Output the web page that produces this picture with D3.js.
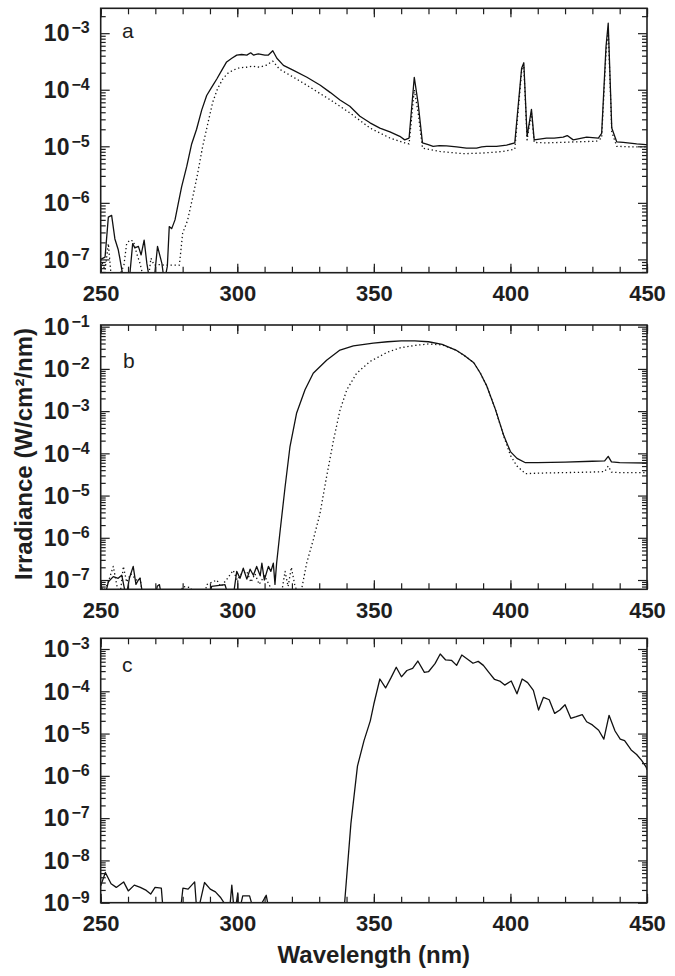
<!DOCTYPE html>
<html><head><meta charset="utf-8">
<script src="https://cdn.jsdelivr.net/npm/d3@7"></script>
<style>
body{margin:0;background:#fff;}
svg{display:block;background:#fff;}
text{font-family:"Liberation Sans",Arial,Helvetica,sans-serif;fill:#1e1e1e;}
</style></head><body><svg id="chart" width="675" height="976"></svg>
<script>
// ---------------- DATA ----------------
const xTickLabels = [250, 300, 350, 400, 450];
const xMinorTicks = [250,260,270,280,290,300,310,320,330,340,350,360,370,380,390,400,410,420,430,440,450];
const aDecades = [1e-7, 1e-6, 1e-5, 1e-4, 1e-3];
const bDecades = [1e-7, 1e-6, 1e-5, 1e-4, 1e-3, 1e-2, 1e-1];
const cDecades = [1e-9, 1e-8, 1e-7, 1e-6, 1e-5, 1e-4, 1e-3];
const panelLabels = ["a", "b", "c"];

// panel a, solid
const aSolidWl = [250,251.6,252.8,254.0,255.2,256.4,257.0,258.5,260.6,261.7,262.5,263.8,264.8,265.9,266.9,268.0,269.5,270.8,272.4,273.3,274.4,275.1,276.0,277.2,278.4,279.6,281.5,283.3,285.1,287.0,288.8,290.6,292.5,294.3,296.1,298.0,299.8,301.6,303.5,304.9,305.9,307.7,310.1,311.4,313.0,314.5,316.9,320.6,325.5,330.4,334.1,337.6,341.2,344.9,348.6,352.2,355.9,359.5,361.3,362.9,364.8,366.2,367.8,369.9,371.7,374.0,376.6,380.3,383.9,387.6,389.5,391.3,394.9,398.6,401.6,404.1,404.9,406.1,407.7,408.7,413.2,416.0,419.3,420.8,423.0,427.9,432.2,433.4,435.0,435.8,437.1,438.9,441.3,446.2,449.6,450];
const aSolidVal = [1.0e-7,1.1e-7,5.6e-7,6.0e-7,2.3e-7,1.5e-7,1.05e-7,4e-8,5e-8,1.9e-7,1.6e-7,1.7e-7,1.2e-7,2.2e-7,8.5e-8,4e-8,4e-8,1.7e-7,8.5e-8,4e-8,7.6e-8,3.8e-7,3.5e-7,5.0e-7,9.8e-7,1.9e-6,4.4e-6,1.1e-5,2.0e-5,4.4e-5,7.9e-5,1.1e-4,1.55e-4,2.2e-4,3.1e-4,3.6e-4,4.1e-4,4.2e-4,4.1e-4,4.5e-4,4.1e-4,4.3e-4,4.1e-4,4.1e-4,4.9e-4,3.6e-4,2.7e-4,2.2e-4,1.66e-4,1.2e-4,8.9e-5,6.6e-5,5.1e-5,3.4e-5,2.6e-5,2.1e-5,1.8e-5,1.5e-5,1.3e-5,1.4e-5,1.66e-4,5.8e-5,1.15e-5,1.07e-5,1.0e-5,1.03e-5,1.02e-5,9.8e-6,9.3e-6,9.3e-6,9.8e-6,1.0e-5,1.0e-5,1.05e-5,1.15e-5,2.4e-4,3.0e-4,1.5e-5,4.5e-5,1.3e-5,1.4e-5,1.4e-5,1.45e-5,1.55e-5,1.3e-5,1.45e-5,1.4e-5,1.7e-5,5.8e-4,1.5e-3,2.1e-5,1.2e-5,1.17e-5,1.1e-5,1.07e-5,1.07e-5];

// panel a, dotted
const aDotWl = [250,251.6,252.8,254.0,256.0,258.5,259.5,260.7,262.0,263.2,264.4,266.0,267.3,268.4,269.6,271.4,273.8,276.3,278.8,280.0,281.8,283.7,285.5,287.3,289.2,291.0,292.8,294.7,296.5,298.3,300.8,303.2,305.6,308.1,310.5,313.0,315.5,320.6,325.5,330.4,334.1,341.2,348.6,355.9,361.3,362.9,364.8,366.2,367.8,374.1,382.7,390.0,397.3,401.6,404.1,404.9,406.1,407.7,408.7,413.2,431.5,433.4,435.0,435.8,437.1,438.9,443.8,450];
const aDotVal = [1.0e-7,6.5e-8,1.9e-7,4e-8,4e-8,7.9e-8,1.9e-7,2.2e-7,2.1e-7,1.26e-7,8.5e-8,4e-8,4e-8,1.05e-7,7.9e-8,8.1e-8,7.9e-8,7.9e-8,7.9e-8,2.9e-7,4.9e-7,1.26e-6,3.3e-6,9.8e-6,2.5e-5,6.0e-5,1.05e-4,1.55e-4,1.95e-4,2.2e-4,2.45e-4,2.5e-4,2.6e-4,2.5e-4,2.7e-4,3.2e-4,2.3e-4,1.66e-4,1.2e-4,8.5e-5,6.6e-5,3.9e-5,2.1e-5,1.4e-5,1.15e-5,1.1e-5,1.0e-4,4.0e-5,9.3e-6,8.1e-6,7.4e-6,7.6e-6,8.1e-6,8.9e-6,2.1e-4,2.6e-4,1.3e-5,3.9e-5,1.17e-5,1.15e-5,1.23e-5,1.4e-5,4.5e-4,1.15e-3,1.8e-5,1.0e-5,9.8e-6,9.8e-6];

// panel b, solid
const bSolidWl = [250,251.5,252.8,254.6,256.4,257.7,259.3,260.5,261.9,262.9,263.8,264.4,265.5,270.0,270.7,271.5,272.3,289.8,290.6,295.5,296.8,298.5,299.8,301.0,302.2,303.5,304.7,305.9,307.1,308.4,309.0,309.9,311.4,312.3,313.2,313.8,314.4,315.6,317.5,319.3,321.7,324.8,327.8,332.7,337.6,342.5,349.8,355,360,365,370,375,380,383,386.6,389,391.3,394.5,397.6,400,402.4,405.5,410,420,430,434.5,435.8,437,440,450];
const bSolidVal = [7.9e-8,4e-8,9.1e-8,1.2e-7,1.1e-7,1.3e-7,4e-8,1.1e-7,2.1e-7,7.9e-8,1.0e-7,1.1e-7,4e-8,4e-8,7.1e-8,7.8e-8,4e-8,4e-8,7.1e-8,7.8e-8,4e-8,4e-8,1.6e-7,1.1e-7,1.9e-7,1.05e-7,1.8e-7,1.3e-7,2.1e-7,1.26e-7,2.5e-7,1.0e-7,2.1e-7,1.6e-7,2.5e-7,7.9e-8,2.5e-7,1.3e-6,1.6e-5,1.45e-4,8.9e-4,3.2e-3,7.9e-3,1.6e-2,2.8e-2,3.5e-2,4.1e-2,4.4e-2,4.6e-2,4.6e-2,4.4e-2,3.8e-2,2.8e-2,2.1e-2,1.4e-2,7.9e-3,4.0e-3,1.1e-3,2.6e-4,1.1e-4,7.6e-5,6.0e-5,6.0e-5,6.2e-5,6.5e-5,6.6e-5,8.5e-5,6.3e-5,6.0e-5,5.9e-5];

// panel b, dotted
const bDotWl = [250,252.5,254.6,256,257,258.3,259.5,261,263.2,264.4,265.5,279,280,283,284,288,288.8,292.5,294,296,298.5,300,301.5,303.5,305,306.5,308,310,312,314,316,317.5,318.6,319.8,321,322.5,323.6,325.4,327.8,330.3,332.7,335.2,337.6,340.1,343.7,348.6,351.6,355,360,365,370,375,380,383,386.6,389,391.3,394.5,397.6,400,402.4,405.5,410,420,430,434.5,435.8,437,440,450];
const bDotVal = [4e-8,7.9e-8,2.1e-7,7e-8,4e-8,2.1e-7,8.9e-8,1.4e-7,1.0e-7,1.1e-7,4e-8,4e-8,7e-8,6.6e-8,4e-8,4e-8,7.8e-8,1.0e-7,7e-8,1.0e-7,1.7e-7,1.0e-7,1.4e-7,1.6e-7,8.9e-8,1.4e-7,7.9e-8,1.26e-7,7e-8,4e-8,4e-8,1.6e-7,7e-8,2.0e-7,7.9e-8,4e-8,6.3e-8,2.5e-7,8.9e-7,3.8e-6,2.8e-5,2.0e-4,1.05e-3,3.2e-3,7.9e-3,1.5e-2,1.9e-2,2.5e-2,3.2e-2,3.6e-2,3.9e-2,3.7e-2,2.8e-2,2.1e-2,1.4e-2,7.9e-3,4.0e-3,1.1e-3,2.5e-4,8.9e-5,5.0e-5,3.3e-5,3.4e-5,3.5e-5,3.6e-5,3.7e-5,5.0e-5,3.6e-5,3.5e-5,3.5e-5];

// panel c, solid
const cSolidWl = [250,251.7,253.8,255.7,258.4,260.1,262.3,264.5,266.7,268.3,269.9,272.2,273.0,279.0,280.1,282.0,284.4,285.3,288.0,290.1,292.0,293.8,295.6,297.0,298.0,299.0,300.2,300.4,302.0,304.5,306.5,310.6,312.0,338.6,339.3,341.6,344.0,346.4,348.7,350.0,352.2,354.3,356.3,358.2,360.1,362.1,364.2,366.1,368.5,370.0,372.4,374.3,376.3,378.4,380.3,382.2,384.2,386.3,388.2,390.1,392.1,394.2,396.1,397.9,400.3,402.4,404.3,406.3,408.4,410.3,412.1,414.2,416.2,418.1,420.0,422.1,424.1,426.3,427.9,430.0,432.3,434.2,436.1,438.3,440.2,441.8,444.2,446.2,448.1,449.7,450];
const cSolidVal = [2.5e-9,5.2e-9,2.8e-9,2.3e-9,3.1e-9,1.9e-9,2.6e-9,2.3e-9,1.95e-9,1.6e-9,2.3e-9,2.2e-9,5e-10,5e-10,2.2e-9,2.1e-9,3.1e-9,5e-10,3.0e-9,2.1e-9,1.8e-9,1.35e-9,9e-10,5e-10,2.6e-9,5e-10,1.7e-9,5e-10,1.45e-9,1.45e-9,5e-10,1.5e-9,5e-10,5e-10,1.0e-9,7.4e-8,1.7e-6,6.8e-6,2.0e-5,5.0e-5,1.95e-4,1.2e-4,2.1e-4,3.7e-4,2.2e-4,3.1e-4,3.5e-4,5.2e-4,2.8e-4,2.9e-4,4.5e-4,7.6e-4,5.5e-4,5.4e-4,4.1e-4,7.2e-4,5.8e-4,4.6e-4,5.1e-4,4.1e-4,2.8e-4,1.9e-4,1.75e-4,1.4e-4,1.75e-4,8.7e-5,1.95e-4,1.6e-4,1.05e-4,3.6e-5,7.2e-5,6.3e-5,3.0e-5,3.6e-5,4.8e-5,2.3e-5,2.5e-5,2.8e-5,1.9e-5,1.6e-5,1.2e-5,7.4e-6,2.7e-5,1.15e-5,7.4e-6,6.8e-6,4.1e-6,3.2e-6,2.3e-6,1.6e-6,1.4e-6];

// ---------------- DRAWING ----------------
const svg = d3.select("#chart");
const ink = "#1e1e1e";
const X0 = 100.7, X1 = 647;
const x = d3.scaleLinear().domain([250, 450]).range([X0, X1]);

const panels = [
  {top: 8.3, bottom: 272.7, dom: [Math.pow(10, -7.235), Math.pow(10, -2.56)], decades: aDecades, labelX: 122, labelY: 38,
   series: [{wl: aSolidWl, v: aSolidVal, dash: null}, {wl: aDotWl, v: aDotVal, dash: "1.3,2.7"}]},
  {top: 325, bottom: 589.3, dom: [Math.pow(10, -7.22), Math.pow(10, -0.96)], decades: bDecades, labelX: 123, labelY: 368,
   series: [{wl: bSolidWl, v: bSolidVal, dash: null}, {wl: bDotWl, v: bDotVal, dash: "1.3,2.7"}]},
  {top: 638.3, bottom: 902.7, dom: [1e-9, Math.pow(10, -2.747)], decades: cDecades, labelX: 122, labelY: 672,
   series: [{wl: cSolidWl, v: cSolidVal, dash: null}]}
];

function minorTicks(dom) {
  const out = [];
  const lo = Math.floor(Math.log10(dom[0])), hi = Math.ceil(Math.log10(dom[1]));
  for (let e = lo; e <= hi; e++) for (let k = 2; k <= 9; k++) {
    const v = k * Math.pow(10, e);
    if (v > dom[0] && v < dom[1]) out.push(v);
  }
  return out;
}

function styleAxis(g) {
  g.select(".domain").remove();
  g.attr("color", ink);
  g.selectAll(".tick line").attr("stroke-width", 1.2);
}

panels.forEach((p, i) => {
  const y = d3.scaleLog().domain(p.dom).range([p.bottom, p.top]);
  const g = svg.append("g");
  const clipId = "clip" + i;
  svg.append("clipPath").attr("id", clipId).append("rect")
    .attr("x", X0).attr("y", p.top).attr("width", X1 - X0).attr("height", p.bottom - p.top);

  p.series.forEach(s => {
    const pts = s.wl.map((w, j) => [w, s.v[j]]);
    g.append("path")
      .attr("clip-path", `url(#${clipId})`)
      .attr("d", d3.line().x(d => x(d[0])).y(d => y(d[1]))(pts))
      .attr("fill", "none").attr("stroke", "#111")
      .attr("stroke-width", 1.3)
      .attr("stroke-dasharray", s.dash)
      .attr("stroke-linejoin", "round");
  });

  // x axes (bottom & top), ticks inward
  g.append("g").attr("transform", `translate(0,${p.bottom})`)
    .call(d3.axisBottom(x).tickValues(xMinorTicks).tickSize(-6).tickFormat("")).call(styleAxis);
  const bx = g.append("g").attr("transform", `translate(0,${p.bottom})`)
    .call(d3.axisBottom(x).tickValues(xTickLabels).tickSize(-9).tickFormat(d3.format("d"))).call(styleAxis);
  bx.attr("font-size", 22).attr("font-weight", "bold").attr("font-family", '"Liberation Sans",Arial,sans-serif');
  bx.selectAll(".tick text").attr("y", 28.5).attr("dy", null).attr("fill", ink);
  g.append("g").attr("transform", `translate(0,${p.top})`)
    .call(d3.axisTop(x).tickValues(xMinorTicks).tickSize(-6).tickFormat("")).call(styleAxis);
  g.append("g").attr("transform", `translate(0,${p.top})`)
    .call(d3.axisTop(x).tickValues(xTickLabels).tickSize(-9).tickFormat("")).call(styleAxis);

  // y axes (left & right), ticks inward
  const minors = minorTicks(p.dom);
  g.append("g").attr("transform", `translate(${X0},0)`)
    .call(d3.axisLeft(y).tickValues(p.decades).tickSize(-9).tickFormat("")).call(styleAxis);
  g.append("g").attr("transform", `translate(${X0},0)`)
    .call(d3.axisLeft(y).tickValues(minors).tickSize(-5).tickFormat("")).call(styleAxis);
  g.append("g").attr("transform", `translate(${X1},0)`)
    .call(d3.axisRight(y).tickValues(p.decades).tickSize(-9).tickFormat("")).call(styleAxis);
  g.append("g").attr("transform", `translate(${X1},0)`)
    .call(d3.axisRight(y).tickValues(minors).tickSize(-5).tickFormat("")).call(styleAxis);

  // y tick labels 10^n
  p.decades.forEach(d => {
    const e = Math.round(Math.log10(d));
    const t = g.append("text").attr("x", X0 - 11).attr("y", y(d) + 8.3)
      .attr("text-anchor", "end").attr("font-weight", "bold");
    t.append("tspan").attr("font-size", 23).text("10");
    t.append("tspan").attr("font-size", 16).attr("dx", 2).attr("dy", -8).text("\u2212" + Math.abs(e));
  });

  // frame
  g.append("rect").attr("x", X0).attr("y", p.top).attr("width", X1 - X0).attr("height", p.bottom - p.top)
    .attr("fill", "none").attr("stroke", ink).attr("stroke-width", 1.6);

  // panel label
  g.append("text").attr("x", p.labelX).attr("y", p.labelY).attr("font-size", 21).text(panelLabels[i]);
});

// axis titles
svg.append("text").attr("x", (X0 + X1) / 2).attr("y", 963).attr("text-anchor", "middle")
  .attr("font-size", 24).attr("font-weight", "bold").text("Wavelength (nm)");
svg.append("text").attr("transform", "translate(31.5,454) rotate(-90)").attr("text-anchor", "middle")
  .attr("font-size", 24).attr("font-weight", "bold").text("Irradiance (W/cm\u00B2/nm)");
</script></body></html>
